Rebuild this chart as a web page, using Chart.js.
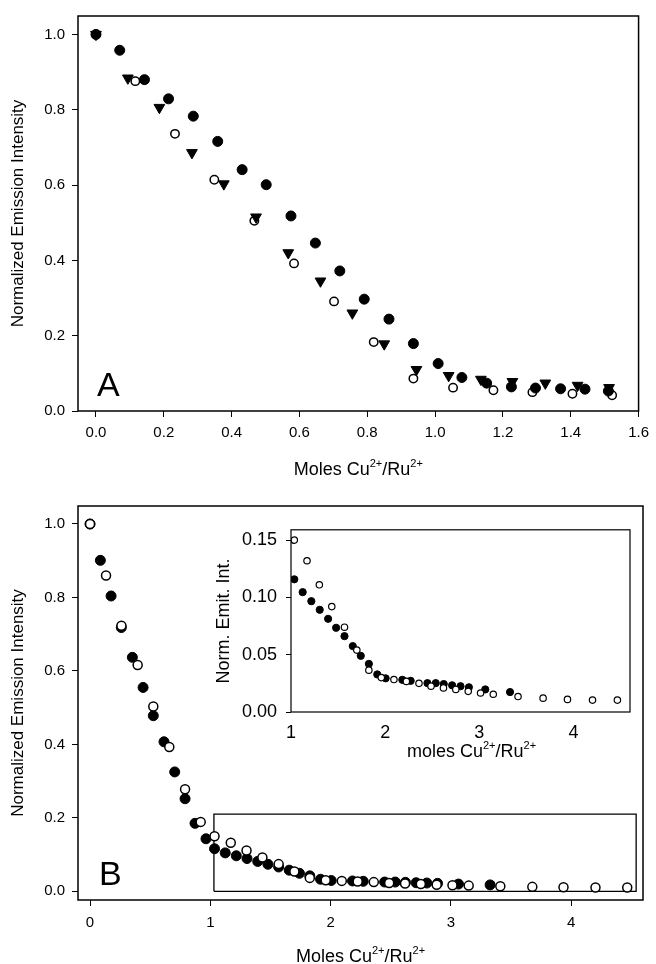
<!DOCTYPE html>
<html>
<head>
<meta charset="utf-8">
<script src="https://cdn.jsdelivr.net/npm/chart.js@4.4.1/dist/chart.umd.min.js"></script>
<style>
  body { margin: 0; background: #fff; width: 656px; height: 964px; position: relative; overflow: hidden; }
  canvas { position: absolute; }
</style>
</head>
<body>
<canvas id="chartA" width="656" height="482" style="left:0;top:0"></canvas>
<canvas id="chartB" width="656" height="482" style="left:0;top:482px"></canvas>
<canvas id="inset" width="440" height="260" style="left:200px;top:510px"></canvas>
<script>
const fontFamily = "'Liberation Sans', Arial, Helvetica, sans-serif";

// Panel A : three titrations
const aFilledX = [0, 0.070, 0.143, 0.214, 0.287, 0.359, 0.431, 0.502, 0.575, 0.647, 0.719, 0.791, 0.864, 0.936, 1.009, 1.079, 1.152, 1.225, 1.296, 1.370, 1.442, 1.511];
const aFilledY = [1.0, 0.958, 0.880, 0.829, 0.783, 0.716, 0.641, 0.601, 0.518, 0.446, 0.372, 0.297, 0.244, 0.179, 0.126, 0.089, 0.074, 0.064, 0.061, 0.059, 0.058, 0.053];
const aTriX = [0, 0.094, 0.187, 0.283, 0.377, 0.472, 0.567, 0.662, 0.756, 0.850, 0.945, 1.040, 1.135, 1.228, 1.325, 1.420, 1.513];
const aTriY = [1.0, 0.884, 0.806, 0.686, 0.603, 0.515, 0.420, 0.345, 0.260, 0.178, 0.110, 0.094, 0.084, 0.078, 0.074, 0.068, 0.062];
const aOpenX = [0, 0.116, 0.233, 0.349, 0.467, 0.584, 0.702, 0.819, 0.936, 1.053, 1.172, 1.287, 1.405, 1.522];
const aOpenY = [1.0, 0.876, 0.736, 0.614, 0.505, 0.392, 0.291, 0.183, 0.086, 0.062, 0.055, 0.050, 0.046, 0.042];
const aXTicks = [0, 0.2, 0.4, 0.6, 0.8, 1.0, 1.2, 1.4, 1.6];
const aYTicks = [0, 0.2, 0.4, 0.6, 0.8, 1.0];

// Panel B : two titrations, extended range
const bFilledX = [0, 0.086, 0.175, 0.260, 0.352, 0.441, 0.526, 0.615, 0.704, 0.790, 0.873, 0.964,
  1.035, 1.124, 1.216, 1.305, 1.394, 1.479, 1.568, 1.656, 1.741, 1.827, 1.916, 2.005, 2.182, 2.271,
  2.449, 2.537, 2.622, 2.711, 2.800, 2.889, 3.063, 3.326];
const bFilledY = [1.0, 0.901, 0.804, 0.718, 0.637, 0.555, 0.478, 0.407, 0.325, 0.252, 0.185, 0.143,
  0.1158, 0.1046, 0.0967, 0.0892, 0.0813, 0.0735, 0.0662, 0.0575, 0.049, 0.042, 0.0328, 0.0294, 0.0281, 0.0272,
  0.0252, 0.0252, 0.0244, 0.0233, 0.0225, 0.0216, 0.0197, 0.0174];
const bOpenX = [0, 0.133, 0.261, 0.396, 0.526, 0.659, 0.790, 0.920,
  1.035, 1.170, 1.301, 1.433, 1.568, 1.699, 1.827, 1.959, 2.093, 2.225, 2.359, 2.487, 2.619, 2.750,
  2.882, 3.013, 3.148, 3.411, 3.677, 3.936, 4.202, 4.466];
const bOpenY = [1.0, 0.860, 0.723, 0.616, 0.503, 0.393, 0.278, 0.189,
  0.150, 0.132, 0.111, 0.092, 0.074, 0.054, 0.0365, 0.030, 0.0283, 0.0267, 0.025, 0.0225, 0.021, 0.0197,
  0.018, 0.0166, 0.0155, 0.0135, 0.0121, 0.011, 0.0104, 0.0104];
const bXTicks = [0, 1, 2, 3, 4];
const bYTicks = [0, 0.2, 0.4, 0.6, 0.8, 1.0];

// region shown enlarged in the inset
const zoomBoxX = [1.03, 4.54, 4.54, 1.03, 1.03];
const zoomBoxY = [0, 0, 0.21, 0.21, 0];

// inset
const insetXTicks = [1, 2, 3, 4];
const insetYTicks = [0, 0.05, 0.10, 0.15];

const xTitleParts = [['Moles Cu', 0], ['2+', 1], ['/Ru', 0], ['2+', 1]];
const insetTitleParts = [['moles Cu', 0], ['2+', 1], ['/Ru', 0], ['2+', 1]];

function pts(xs, ys, keep) {
  return xs.map((x, i) => ({ x: x, y: ys[i] })).filter(p => !keep || keep(p));
}

// frame, panel letter and x title with superscripts
const panelDecor = {
  id: 'panelDecor',
  afterDraw(chart, args, o) {
    const ctx = chart.ctx, ca = chart.chartArea;
    ctx.save();
    ctx.strokeStyle = '#000';
    ctx.lineWidth = o.frameWidth;
    ctx.strokeRect(ca.left, ca.top, ca.right - ca.left, ca.bottom - ca.top);
    ctx.fillStyle = '#000';
    ctx.textBaseline = 'alphabetic';
    ctx.textAlign = 'left';
    if (o.letter) {
      ctx.font = o.letterSize + 'px ' + fontFamily;
      ctx.fillText(o.letter, ca.left + o.letterDx, ca.bottom - o.letterDy);
    }
    const F = o.titleSize, S = Math.round(F * 0.62);
    let total = 0;
    const w = o.titleParts.map(([t, sup]) => {
      ctx.font = (sup ? S : F) + 'px ' + fontFamily;
      const m = ctx.measureText(t).width;
      total += m;
      return m;
    });
    let x = (ca.left + ca.right) / 2 + o.titleDx - total / 2;
    const y = ca.bottom + o.titleDy;
    o.titleParts.forEach(([t, sup], i) => {
      ctx.font = (sup ? S : F) + 'px ' + fontFamily;
      ctx.fillText(t, x, sup ? y - F * 0.42 : y);
      x += w[i];
    });
    ctx.restore();
  }
};

function axis(cfg) {
  return {
    type: 'linear',
    min: cfg.min,
    max: cfg.max,
    afterBuildTicks: s => { s.ticks = cfg.ticks.map(v => ({ value: v })); },
    afterFit: s => { if (cfg.horizontal) s.height = cfg.size; else s.width = cfg.size; },
    ticks: {
      callback: v => v.toFixed(cfg.decimals),
      font: { size: cfg.font, family: fontFamily },
      color: '#000',
      padding: cfg.pad,
      autoSkip: false,
      maxRotation: 0
    },
    grid: { drawOnChartArea: false, drawTicks: cfg.tick > 0, tickLength: cfg.tick, color: '#000', lineWidth: 1 },
    border: { display: false },
    title: cfg.title ? {
      display: true, text: cfg.title, color: '#000',
      font: { size: cfg.titleSize, family: fontFamily },
      padding: { top: cfg.titlePad, bottom: 0 }
    } : { display: false }
  };
}

const filledStyle = (r) => ({ pointStyle: 'circle', pointRadius: r, pointBackgroundColor: '#000', pointBorderColor: '#000', pointBorderWidth: 1, showLine: false });
const openStyle = (r, bw) => ({ pointStyle: 'circle', pointRadius: r, pointBackgroundColor: '#fff', pointBorderColor: '#000', pointBorderWidth: bw, showLine: false });

Chart.defaults.font.family = fontFamily;
Chart.defaults.color = '#000';

const common = {
  responsive: false,
  animation: false,
  devicePixelRatio: 1,
  events: [],
};

// ---- Panel A (first dataset is drawn on top)
new Chart(document.getElementById('chartA'), {
  type: 'scatter',
  data: {
    datasets: [
      Object.assign({ label: 'filled', data: pts(aFilledX, aFilledY) }, filledStyle(5)),
      { label: 'triangle', data: pts(aTriX, aTriY), pointStyle: 'triangle', rotation: 180, pointRadius: 6.2,
        pointBackgroundColor: '#000', pointBorderColor: '#000', pointBorderWidth: 1, showLine: false },
      Object.assign({ label: 'open', data: pts(aOpenX, aOpenY) }, openStyle(4.2, 1.5))
    ]
  },
  options: Object.assign({}, common, {
    layout: { padding: { top: 16, right: 13, left: 0, bottom: 0 } },
    plugins: {
      legend: { display: false }, tooltip: { enabled: false },
      panelDecor: { frameWidth: 1.5, letter: 'A', letterSize: 34, letterDx: 19, letterDy: 15,
        titleParts: xTitleParts, titleSize: 18, titleDx: 0, titleDy: 64 }
    },
    scales: {
      x: axis({ horizontal: true, min: -0.053, max: 1.6, ticks: aXTicks, decimals: 1, size: 71, font: 15, pad: 7, tick: 6 }),
      y: axis({ min: 0, max: 1.049, ticks: aYTicks, decimals: 1, size: 78, font: 15, pad: 7, tick: 6,
        title: 'Normalized Emission Intensity', titleSize: 17, titlePad: 8 })
    }
  }),
  plugins: [panelDecor]
});

// ---- Panel B (open circles on top of filled ones)
new Chart(document.getElementById('chartB'), {
  type: 'scatter',
  data: {
    datasets: [
      Object.assign({ label: 'open', data: pts(bOpenX, bOpenY) }, openStyle(4.5, 1.5)),
      Object.assign({ label: 'filled', data: pts(bFilledX, bFilledY) }, filledStyle(5)),
      { label: 'box', data: pts(zoomBoxX, zoomBoxY), showLine: true, pointRadius: 0, borderColor: '#000',
        borderWidth: 1.3, fill: false, tension: 0 }
    ]
  },
  options: Object.assign({}, common, {
    layout: { padding: { top: 24, right: 13, left: 0, bottom: 0 } },
    plugins: {
      legend: { display: false }, tooltip: { enabled: false },
      panelDecor: { frameWidth: 1.5, letter: 'B', letterSize: 34, letterDx: 21, letterDy: 15,
        titleParts: xTitleParts, titleSize: 18, titleDx: 0, titleDy: 62 }
    },
    scales: {
      x: axis({ horizontal: true, min: -0.1, max: 4.597, ticks: bXTicks, decimals: 0, size: 64, font: 15, pad: 8, tick: 6 }),
      y: axis({ min: -0.0237, max: 1.049, ticks: bYTicks, decimals: 1, size: 78, font: 15, pad: 7, tick: 6,
        title: 'Normalized Emission Intensity', titleSize: 17, titlePad: 8 })
    }
  }),
  plugins: [panelDecor]
});

// ---- Inset
const inRange = p => p.x >= 1;
new Chart(document.getElementById('inset'), {
  type: 'scatter',
  data: {
    datasets: [
      Object.assign({ label: 'open', data: pts(bOpenX, bOpenY, inRange) }, openStyle(3.2, 1.2)),
      Object.assign({ label: 'filled', data: pts(bFilledX, bFilledY, inRange) }, filledStyle(3.6))
    ]
  },
  options: Object.assign({}, common, {
    layout: { padding: { top: 13, right: 10, left: 0, bottom: 0 } },
    plugins: {
      legend: { display: false }, tooltip: { enabled: false },
      panelDecor: { frameWidth: 1.2, letter: '', titleParts: insetTitleParts, titleSize: 18, titleDx: 11, titleDy: 45 }
    },
    scales: {
      x: axis({ horizontal: true, min: 1, max: 4.6, ticks: insetXTicks, decimals: 0, size: 58, font: 18, pad: 10, tick: 0 }),
      y: axis({ min: 0, max: 0.159, ticks: insetYTicks, decimals: 2, size: 91, font: 18, pad: 9, tick: 5,
        title: 'Norm. Emit. Int.', titleSize: 18, titlePad: 13 })
    }
  }),
  plugins: [panelDecor]
});
</script>
</body>
</html>
